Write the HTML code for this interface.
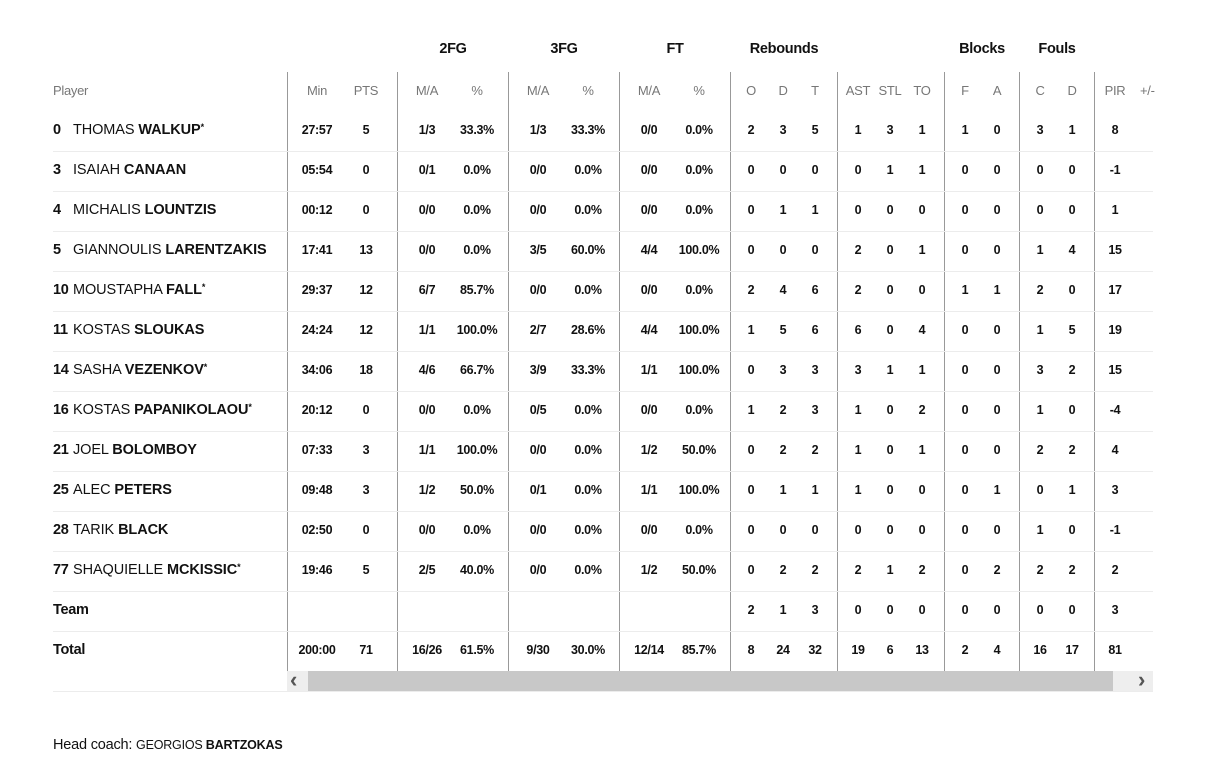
<!DOCTYPE html>
<html><head><meta charset="utf-8"><style>
body{margin:0;width:1209px;height:763px;background:#fff;font-family:"Liberation Sans",sans-serif;color:#111;position:relative;overflow:hidden}
.a{position:absolute}
.g{position:absolute;top:41px;font-weight:bold;font-size:14.5px;width:100px;margin-left:-50px;text-align:center;letter-spacing:-0.3px}
.r{position:absolute;left:0;width:1209px;height:40px}
.r span{position:absolute;top:12px;width:60px;margin-left:-30px;text-align:center;font-size:12.5px;font-weight:bold;letter-spacing:-0.3px}
.h span{font-weight:normal;color:#777;font-size:13px}
.r .n{left:53px;margin-left:0;width:20px;text-align:left;font-size:14.5px;top:11px}
.r .p{left:73px;margin-left:0;width:220px;text-align:left;font-size:14.5px;font-weight:normal;top:11px;white-space:nowrap;letter-spacing:-0.1px}
.p b{font-weight:bold}
.p i{font-style:normal;font-size:9px;position:relative;top:-4px;font-weight:bold}
.line{position:absolute;left:53px;width:1100px;height:1px;background:#ececec}
.v{position:absolute;top:72px;height:599px;width:1px;background:#999}
.c1{left:317px}.c2{left:366px}.c3{left:427px}.c4{left:477px}.c5{left:538px}.c6{left:588px}.c7{left:649px}.c8{left:699px}.c9{left:751px}.c10{left:783px}.c11{left:815px}.c12{left:858px}.c13{left:890px}.c14{left:922px}.c15{left:965px}.c16{left:997px}.c17{left:1040px}.c18{left:1072px}.c19{left:1115px}.c20{left:1148px}
</style></head><body>
<div class="g" style="left:453px">2FG</div>
<div class="g" style="left:564px">3FG</div>
<div class="g" style="left:675px">FT</div>
<div class="g" style="left:784px">Rebounds</div>
<div class="g" style="left:982px">Blocks</div>
<div class="g" style="left:1057px">Fouls</div>

<div class="v" style="left:287px"></div><div class="v" style="left:397px"></div><div class="v" style="left:508px"></div><div class="v" style="left:619px"></div><div class="v" style="left:730px"></div><div class="v" style="left:837px"></div><div class="v" style="left:944px"></div><div class="v" style="left:1019px"></div><div class="v" style="left:1094px"></div>

<div class="r h" style="top:71px"><span class="n" style="font-size:13px;color:#777;font-weight:normal;width:60px;top:12px">Player</span><span class="c1">Min</span><span class="c2">PTS</span><span class="c3">M/A</span><span class="c4">%</span><span class="c5">M/A</span><span class="c6">%</span><span class="c7">M/A</span><span class="c8">%</span><span class="c9">O</span><span class="c10">D</span><span class="c11">T</span><span class="c12">AST</span><span class="c13">STL</span><span class="c14">TO</span><span class="c15">F</span><span class="c16">A</span><span class="c17">C</span><span class="c18">D</span><span class="c19">PIR</span><span class="c20" style="width:16px;margin-left:-8px;overflow:hidden;text-align:left">+/-</span></div>

<div class="r" style="top:111px"><span class="n">0</span><span class="p">THOMAS <b>WALKUP</b><i>*</i></span><span class="c1">27:57</span><span class="c2">5</span><span class="c3">1/3</span><span class="c4">33.3%</span><span class="c5">1/3</span><span class="c6">33.3%</span><span class="c7">0/0</span><span class="c8">0.0%</span><span class="c9">2</span><span class="c10">3</span><span class="c11">5</span><span class="c12">1</span><span class="c13">3</span><span class="c14">1</span><span class="c15">1</span><span class="c16">0</span><span class="c17">3</span><span class="c18">1</span><span class="c19">8</span></div>
<div class="line" style="top:151px"></div>
<div class="r" style="top:151px"><span class="n">3</span><span class="p">ISAIAH <b>CANAAN</b></span><span class="c1">05:54</span><span class="c2">0</span><span class="c3">0/1</span><span class="c4">0.0%</span><span class="c5">0/0</span><span class="c6">0.0%</span><span class="c7">0/0</span><span class="c8">0.0%</span><span class="c9">0</span><span class="c10">0</span><span class="c11">0</span><span class="c12">0</span><span class="c13">1</span><span class="c14">1</span><span class="c15">0</span><span class="c16">0</span><span class="c17">0</span><span class="c18">0</span><span class="c19">-1</span></div>
<div class="line" style="top:191px"></div>
<div class="r" style="top:191px"><span class="n">4</span><span class="p">MICHALIS <b>LOUNTZIS</b></span><span class="c1">00:12</span><span class="c2">0</span><span class="c3">0/0</span><span class="c4">0.0%</span><span class="c5">0/0</span><span class="c6">0.0%</span><span class="c7">0/0</span><span class="c8">0.0%</span><span class="c9">0</span><span class="c10">1</span><span class="c11">1</span><span class="c12">0</span><span class="c13">0</span><span class="c14">0</span><span class="c15">0</span><span class="c16">0</span><span class="c17">0</span><span class="c18">0</span><span class="c19">1</span></div>
<div class="line" style="top:231px"></div>
<div class="r" style="top:231px"><span class="n">5</span><span class="p">GIANNOULIS <b>LARENTZAKIS</b></span><span class="c1">17:41</span><span class="c2">13</span><span class="c3">0/0</span><span class="c4">0.0%</span><span class="c5">3/5</span><span class="c6">60.0%</span><span class="c7">4/4</span><span class="c8">100.0%</span><span class="c9">0</span><span class="c10">0</span><span class="c11">0</span><span class="c12">2</span><span class="c13">0</span><span class="c14">1</span><span class="c15">0</span><span class="c16">0</span><span class="c17">1</span><span class="c18">4</span><span class="c19">15</span></div>
<div class="line" style="top:271px"></div>
<div class="r" style="top:271px"><span class="n">10</span><span class="p">MOUSTAPHA <b>FALL</b><i>*</i></span><span class="c1">29:37</span><span class="c2">12</span><span class="c3">6/7</span><span class="c4">85.7%</span><span class="c5">0/0</span><span class="c6">0.0%</span><span class="c7">0/0</span><span class="c8">0.0%</span><span class="c9">2</span><span class="c10">4</span><span class="c11">6</span><span class="c12">2</span><span class="c13">0</span><span class="c14">0</span><span class="c15">1</span><span class="c16">1</span><span class="c17">2</span><span class="c18">0</span><span class="c19">17</span></div>
<div class="line" style="top:311px"></div>
<div class="r" style="top:311px"><span class="n">11</span><span class="p">KOSTAS <b>SLOUKAS</b></span><span class="c1">24:24</span><span class="c2">12</span><span class="c3">1/1</span><span class="c4">100.0%</span><span class="c5">2/7</span><span class="c6">28.6%</span><span class="c7">4/4</span><span class="c8">100.0%</span><span class="c9">1</span><span class="c10">5</span><span class="c11">6</span><span class="c12">6</span><span class="c13">0</span><span class="c14">4</span><span class="c15">0</span><span class="c16">0</span><span class="c17">1</span><span class="c18">5</span><span class="c19">19</span></div>
<div class="line" style="top:351px"></div>
<div class="r" style="top:351px"><span class="n">14</span><span class="p">SASHA <b>VEZENKOV</b><i>*</i></span><span class="c1">34:06</span><span class="c2">18</span><span class="c3">4/6</span><span class="c4">66.7%</span><span class="c5">3/9</span><span class="c6">33.3%</span><span class="c7">1/1</span><span class="c8">100.0%</span><span class="c9">0</span><span class="c10">3</span><span class="c11">3</span><span class="c12">3</span><span class="c13">1</span><span class="c14">1</span><span class="c15">0</span><span class="c16">0</span><span class="c17">3</span><span class="c18">2</span><span class="c19">15</span></div>
<div class="line" style="top:391px"></div>
<div class="r" style="top:391px"><span class="n">16</span><span class="p">KOSTAS <b>PAPANIKOLAOU</b><i>*</i></span><span class="c1">20:12</span><span class="c2">0</span><span class="c3">0/0</span><span class="c4">0.0%</span><span class="c5">0/5</span><span class="c6">0.0%</span><span class="c7">0/0</span><span class="c8">0.0%</span><span class="c9">1</span><span class="c10">2</span><span class="c11">3</span><span class="c12">1</span><span class="c13">0</span><span class="c14">2</span><span class="c15">0</span><span class="c16">0</span><span class="c17">1</span><span class="c18">0</span><span class="c19">-4</span></div>
<div class="line" style="top:431px"></div>
<div class="r" style="top:431px"><span class="n">21</span><span class="p">JOEL <b>BOLOMBOY</b></span><span class="c1">07:33</span><span class="c2">3</span><span class="c3">1/1</span><span class="c4">100.0%</span><span class="c5">0/0</span><span class="c6">0.0%</span><span class="c7">1/2</span><span class="c8">50.0%</span><span class="c9">0</span><span class="c10">2</span><span class="c11">2</span><span class="c12">1</span><span class="c13">0</span><span class="c14">1</span><span class="c15">0</span><span class="c16">0</span><span class="c17">2</span><span class="c18">2</span><span class="c19">4</span></div>
<div class="line" style="top:471px"></div>
<div class="r" style="top:471px"><span class="n">25</span><span class="p">ALEC <b>PETERS</b></span><span class="c1">09:48</span><span class="c2">3</span><span class="c3">1/2</span><span class="c4">50.0%</span><span class="c5">0/1</span><span class="c6">0.0%</span><span class="c7">1/1</span><span class="c8">100.0%</span><span class="c9">0</span><span class="c10">1</span><span class="c11">1</span><span class="c12">1</span><span class="c13">0</span><span class="c14">0</span><span class="c15">0</span><span class="c16">1</span><span class="c17">0</span><span class="c18">1</span><span class="c19">3</span></div>
<div class="line" style="top:511px"></div>
<div class="r" style="top:511px"><span class="n">28</span><span class="p">TARIK <b>BLACK</b></span><span class="c1">02:50</span><span class="c2">0</span><span class="c3">0/0</span><span class="c4">0.0%</span><span class="c5">0/0</span><span class="c6">0.0%</span><span class="c7">0/0</span><span class="c8">0.0%</span><span class="c9">0</span><span class="c10">0</span><span class="c11">0</span><span class="c12">0</span><span class="c13">0</span><span class="c14">0</span><span class="c15">0</span><span class="c16">0</span><span class="c17">1</span><span class="c18">0</span><span class="c19">-1</span></div>
<div class="line" style="top:551px"></div>
<div class="r" style="top:551px"><span class="n">77</span><span class="p">SHAQUIELLE <b>MCKISSIC</b><i>*</i></span><span class="c1">19:46</span><span class="c2">5</span><span class="c3">2/5</span><span class="c4">40.0%</span><span class="c5">0/0</span><span class="c6">0.0%</span><span class="c7">1/2</span><span class="c8">50.0%</span><span class="c9">0</span><span class="c10">2</span><span class="c11">2</span><span class="c12">2</span><span class="c13">1</span><span class="c14">2</span><span class="c15">0</span><span class="c16">2</span><span class="c17">2</span><span class="c18">2</span><span class="c19">2</span></div>
<div class="line" style="top:591px"></div>
<div class="r" style="top:591px"><span class="n" style="width:60px;font-weight:bold">Team</span><span class="c9">2</span><span class="c10">1</span><span class="c11">3</span><span class="c12">0</span><span class="c13">0</span><span class="c14">0</span><span class="c15">0</span><span class="c16">0</span><span class="c17">0</span><span class="c18">0</span><span class="c19">3</span></div>
<div class="line" style="top:631px"></div>
<div class="r" style="top:631px"><span class="n" style="width:60px;font-weight:bold">Total</span><span class="c1">200:00</span><span class="c2">71</span><span class="c3">16/26</span><span class="c4">61.5%</span><span class="c5">9/30</span><span class="c6">30.0%</span><span class="c7">12/14</span><span class="c8">85.7%</span><span class="c9">8</span><span class="c10">24</span><span class="c11">32</span><span class="c12">19</span><span class="c13">6</span><span class="c14">13</span><span class="c15">2</span><span class="c16">4</span><span class="c17">16</span><span class="c18">17</span><span class="c19">81</span></div>

<div class="a" style="left:287px;top:671px;width:866px;height:20px;background:#eee"></div>
<div class="a" style="left:308px;top:671px;width:805px;height:20px;background:#c8c8c8"></div>
<div class="a" style="left:290px;top:668px;font-size:22px;line-height:24px;color:#555;font-weight:bold">&lsaquo;</div>
<div class="a" style="left:1138px;top:668px;font-size:22px;line-height:24px;color:#555;font-weight:bold">&rsaquo;</div>
<div class="line" style="top:691px"></div>

<div class="a" style="left:53px;top:737px;font-size:14.5px;letter-spacing:-0.2px">Head coach: <span style="font-size:12.5px">GEORGIOS <b>BARTZOKAS</b></span></div>
</body></html>
